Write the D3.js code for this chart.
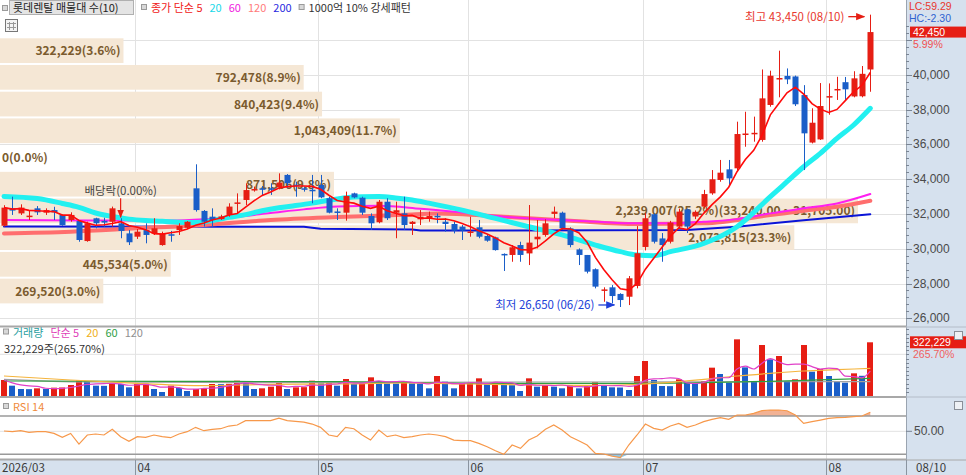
<!DOCTYPE html>
<html>
<head>
<meta charset="utf-8">
<script src="https://cdn.jsdelivr.net/npm/d3@7"></script>
<style>
body { margin: 0; background: #fff; }
svg { display: block; font-family: 'Noto Sans CJK KR', 'Noto Sans', sans-serif; }
.num { font-family: 'Liberation Sans', 'DejaVu Sans', sans-serif; }
</style>
</head>
<body>
<svg id="chart" width="966" height="475"></svg>
<script>
// daily candles, 2026/03 .. 08/10 (105 trading days)
var open = [31320,32320,32030,31870,32320,32070,32220,31940,31650,31590,30440,31750,31600,31550,31460,30880,30690,31070,30880,30210,30830,31070,31210,33470,32170,31840,31700,31940,32610,32800,33390,33470,33470,33530,34240,33680,33470,33390,33660,32900,32140,32070,33180,32930,31880,31520,32700,32070,32030,31420,31690,31750,31890,31550,31420,31270,30950,31230,30730,30650,29700,29640,30210,29730,30540,30790,32000,32070,31170,29960,29640,28820,27600,27780,27400,27240,27860,30100,31980,30590,30400,31270,32260,31850,32420,33180,33950,34560,34620,36550,36600,36250,38260,39790,39930,39900,38830,36100,36280,38730,39130,39570,38750,38760,40300]
var high = [32500,32990,32550,32220,32450,32320,32410,31970,32090,31650,31550,31780,31780,32420,31750,31070,31130,31460,31750,30980,31020,31460,31590,34850,32220,32320,31950,32610,33180,33760,33570,33600,33760,34330,34290,33850,33570,34240,34240,32990,32320,33280,33220,32990,32030,32800,32900,32700,32990,31590,32220,32130,32030,31750,31550,31360,31840,31650,30790,30690,29730,30210,30400,32510,31650,31690,32420,32130,31230,30020,29640,28870,27780,27910,27440,28430,31300,32050,32030,30900,31600,32300,32300,32200,33380,34520,35100,35100,37300,37870,37590,40300,40230,41380,40360,39950,39400,38070,39520,39500,39880,39870,40200,40500,43450]
var low = [31270,31940,31940,31650,31940,31940,31650,31320,31550,30400,30400,31170,31260,31270,30600,30210,30560,30310,30790,30170,30400,30790,31130,32130,31270,31270,31650,31840,32030,32510,33280,33030,33090,33410,33470,32990,33280,32610,32900,32030,31650,31610,32900,31940,31080,31460,31650,30600,31080,30790,31360,31550,31460,30980,30880,30500,30690,30600,30400,29890,28720,29250,29250,29060,30020,30690,31750,31070,30080,29060,28580,27720,26950,26860,26650,26760,27720,29900,30300,29250,30300,31150,30900,31700,32300,33100,33850,33660,34500,35860,36150,36150,38160,38700,39460,38200,34520,36050,36250,37700,38550,38550,38700,38700,39020]
var close = [32360,32190,32360,31900,32090,32220,32090,31360,31940,30500,31460,31460,31500,32320,31020,30370,30980,30790,31170,30880,30780,31300,31550,32220,31550,31650,31850,32420,32660,33370,33430,33430,33420,33800,33760,33620,33430,33300,32950,32070,32090,33030,32950,32070,31460,32700,31750,32210,31360,31550,31840,31880,31830,31420,31040,31040,30990,30690,30460,29920,29640,30080,29640,30350,30690,31460,32130,31170,30210,29640,28680,27820,27660,27280,27050,28300,29740,31750,30400,30210,31500,32130,31270,32120,33140,33990,34370,34040,36590,36620,36660,38640,39940,39810,39730,38300,36630,37240,38200,38770,39180,39160,39790,40050,42450]
var volume = [96000,62000,42000,41000,46000,42000,50000,51000,66000,92000,90000,62000,61000,76000,72000,52000,72000,74000,42000,24000,62000,48000,30000,42000,46000,72000,71000,73000,92000,86000,42000,46000,56000,90000,42000,52000,53000,92000,76000,77000,62000,102000,72000,76000,112000,90000,76000,75000,90000,76000,75000,46000,120000,86000,46000,76000,77000,106000,76000,80000,66000,65000,30000,106000,56000,66000,56000,46000,66000,46000,62000,82000,66000,52000,51000,36000,120000,210000,96000,60000,59000,100000,80000,76000,90000,170000,132000,80000,340000,172000,86000,306000,220000,240000,90000,100000,306000,146000,162000,120000,86000,80000,136000,121275,322229]
var rsi = [50.4,49.5,50.8,48.6,49.5,49.5,47.3,42.1,47.3,33.4,45.2,46.5,45.2,52.6,43.0,36.9,43.0,42.1,45.2,43.0,41.7,46.5,49.5,55.2,50.8,52.6,53.4,56.9,58.2,63.9,63.9,63.9,63.9,67.3,63.9,63.0,62.1,59.5,55.2,45.2,43.0,55.2,53.4,45.2,38.6,51.7,43.0,45.2,41.7,43.0,45.2,46.5,45.2,43.0,38.6,37.8,37.8,34.3,29.9,24.7,19.9,32.1,27.7,38.6,43.9,52.6,58.2,51.7,43.0,37.8,32.1,21.2,20.4,17.7,15.6,32.1,45.2,59.5,53.9,51.7,56.9,60.4,55.2,58.2,62.6,65.6,67.8,65.6,71.3,71.3,73.4,76.9,77.8,77.8,76.9,71.3,60.4,62.6,64.7,66.9,67.8,68.2,69.1,70.0,74.8]

// month ticks (candle index of first trading day)
var monthIdx = [0, 16, 38, 56, 77, 99]
var monthLabels = ["2026/03", "04", "05", "06", "07", "08"]
var lastDate = "08/10"

// long moving averages (candle index, value)
var ma20Idx = [0,4,7,9,11,13,15,17,19,21,23,25,27,29,31,33,35,37,39,41,43,45,47,49,51,55,59,63,67,71,74,76,78,80,84,88,92,94,96,98,100,102,104]
var ma20Val = [33000,32880,32600,32380,32050,31850,31700,31620,31580,31520,31500,31620,31800,31960,32180,32350,32480,32620,32780,32930,32990,33000,32920,32800,32620,32220,31740,31260,30790,30210,29830,29640,29600,29830,30300,31260,32990,33850,34710,35480,36340,37110,38070]
var ma60Idx = [0,10,20,24,28,32,36,40,45,50,55,60,65,70,75,80,84,88,92,96,100,104]
var ma60Val = [31650,31620,31620,31690,31840,32050,32260,32420,32470,32300,32080,31840,31690,31580,31460,31460,31550,31700,32030,32320,32600,33140]
var ma120Idx = [0,8,16,24,32,40,48,52,60,68,76,84,92,96,100,104]
var ma120Val = [30880,30980,31170,31360,31650,31820,31950,32030,31840,31610,31420,31460,31930,32180,32410,32760]
var ma200Idx = [0,36,38,49,50,82,88,96,104]
var ma200Val = [31270,31260,31150,31110,31040,31070,31260,31640,31980]

// volume moving averages
var vma20Idx = [0,8,16,24,32,40,48,56,64,72,80,84,88,92,96,100,104]
var vma20Val = [120000,96000,76000,62000,70000,72000,78000,72000,66000,64000,82000,100000,120000,136000,150000,158000,166000]
var vma60Idx = [0,20,40,60,76,84,92,104]
var vma60Val = [90000,88000,86000,76000,76000,80000,88000,106000]
var vma120Idx = [0,10,30,60,104]
var vma120Val = [100000,84000,80000,84000,86000]

// volume profile (매물대), bottom bin first
var profLow = 26800
var profStep = 1535
var profVol = [269520, 445534, 2072815, 2239007, 871506, 0, 1043409, 840423, 792478, 322229]
var profMaxRange = "(33,240.00 ~ 31,705.00)"

var divIdx = 14
var divLabel = "배당락(0.00%)"
var hiDate = "08/10", loDate = "06/26"
var lcText = "LC:59.29", hcText = "HC:-2.30"

var RED = "#e61e14", BLUE = "#1a5ec8", AXISBG = "#d6e1ee"
var fmt = d3.format(",")

var svg = d3.select("#chart")

var x = d3.scaleLinear().domain([0, 104]).range([4, 870.3])
var yP = d3.scaleLinear().domain([26000, 40000]).range([318.3, 74.7])
var yV = d3.scaleLinear().domain([0, 414000]).range([396, 327])
var yR = d3.scaleLinear().domain([20, 70]).range([454.3, 416])

function movingAvg(arr, n) {
    return arr.map(function(d, i) {
        return d3.mean(arr.slice(Math.max(0, i - n + 1), i + 1))
    })
}

svg.append("rect").attr("width", 966).attr("height", 475).attr("fill", "#fff")

// grid
var grid = svg.append("g")
grid.selectAll(".hg").data(d3.range(26000, 42001, 2000)).enter().append("line")
    .attr("x1", 0).attr("x2", 906)
    .attr("y1", function(d) { return Math.round(yP(d)) + 0.5 })
    .attr("y2", function(d) { return Math.round(yP(d)) + 0.5 })
    .attr("stroke", "#e2e2e2")
grid.selectAll(".vg").data(monthIdx.slice(1)).enter().append("line")
    .attr("x1", function(d) { return Math.round(x(d) - 2.5) + 0.5 })
    .attr("x2", function(d) { return Math.round(x(d) - 2.5) + 0.5 })
    .attr("y1", 0).attr("y2", 460)
    .attr("stroke", "#e2e2e2")

// volume profile boxes
var profTotal = d3.sum(profVol)
var profMaxI = profVol.indexOf(d3.max(profVol))
var xProf = d3.scaleLinear().domain([0, d3.max(profVol)]).range([0, 858])
var prof = svg.append("g")
profVol.forEach(function(v, k) {
    var top = yP(profLow + (k + 1) * profStep) + 1
    var bot = yP(profLow + k * profStep) - 1
    var w = xProf(v)
    prof.append("rect").attr("x", 0).attr("y", top).attr("width", w).attr("height", bot - top)
        .attr("fill", "#f5e7d5")
    var label = fmt(v) + "(" + (v / profTotal * 100).toFixed(1) + "%)"
    if (k == profMaxI) label += profMaxRange
    prof.append("text")
        .attr("x", w > 0 ? w - 3 : 2)
        .attr("y", (top + bot) / 2 + 4.5)
        .attr("text-anchor", w > 0 ? "end" : "start")
        .attr("font-size", 12).attr("font-weight", "bold")
        .attr("fill", "#7b5b2e")
        .text(label)
})

// long moving averages
var ma = svg.append("g")
function maLine(idx, val, color, width, curve) {
    var line = d3.line()
        .x(function(d) { return x(d[0]) })
        .y(function(d) { return yP(d[1]) })
        .curve(curve || d3.curveMonotoneX)
    ma.append("path").datum(d3.zip(idx, val))
        .attr("d", line).attr("fill", "none")
        .attr("stroke", color).attr("stroke-width", width)
        .attr("stroke-linejoin", "round").attr("stroke-linecap", "round")
}
maLine(ma200Idx, ma200Val, "#0a14d8", 2, d3.curveLinear)
maLine(ma120Idx, ma120Val, "#ff6e6e", 4)
maLine(ma60Idx, ma60Val, "#ff1ef0", 2)
maLine(ma20Idx, ma20Val, "#22f0f0", 5)

// candles
var idx = d3.range(close.length)
var candles = svg.append("g").selectAll("g").data(idx).enter().append("g")
candles.append("line")
    .attr("x1", function(i) { return Math.round(x(i)) + 0.5 })
    .attr("x2", function(i) { return Math.round(x(i)) + 0.5 })
    .attr("y1", function(i) { return yP(high[i]) })
    .attr("y2", function(i) { return yP(low[i]) })
    .attr("stroke", function(i) { return close[i] >= open[i] ? RED : BLUE })
candles.append("rect")
    .attr("x", function(i) { return Math.round(x(i)) - 2.5 })
    .attr("width", 6)
    .attr("y", function(i) { return yP(Math.max(open[i], close[i])) })
    .attr("height", function(i) { return Math.max(1.5, Math.abs(yP(open[i]) - yP(close[i]))) })
    .attr("fill", function(i) { return close[i] >= open[i] ? RED : BLUE })

// 5-day average on top
var ma5 = movingAvg(close, 5)
svg.append("path").datum(idx)
    .attr("d", d3.line().x(function(i) { return x(i) }).y(function(i) { return yP(ma5[i]) }))
    .attr("fill", "none").attr("stroke", "#ff0a0a").attr("stroke-width", 1.6)

// arrow marker heads
var defs = svg.append("defs")
function arrowHead(id, color) {
    defs.append("marker").attr("id", id).attr("viewBox", "0 0 10 10")
        .attr("refX", 9).attr("refY", 5).attr("markerWidth", 7).attr("markerHeight", 7)
        .attr("orient", "auto-start-reverse")
        .append("path").attr("d", "M0,1L10,5L0,9z").attr("fill", color)
}
arrowHead("arRed", RED)
arrowHead("arBlue", "#1f3fd8")

// highest / lowest
var hiI = high.indexOf(d3.max(high)), loI = low.indexOf(d3.min(low))
var hx = x(hiI) - 6, hy = yP(high[hiI]) + 2
svg.append("line").attr("x1", hx - 16).attr("x2", hx).attr("y1", hy).attr("y2", hy)
    .attr("stroke", RED).attr("stroke-width", 1.3).attr("marker-end", "url(#arRed)")
svg.append("text").attr("x", hx - 20).attr("y", hy + 4).attr("text-anchor", "end")
    .attr("font-size", 11.5).attr("fill", "#e8382e")
    .text("최고 " + fmt(high[hiI]) + " (" + hiDate + ")")
var lx = x(loI) - 6, ly = yP(low[loI]) - 2
svg.append("line").attr("x1", lx - 16).attr("x2", lx).attr("y1", ly).attr("y2", ly)
    .attr("stroke", "#1f3fd8").attr("stroke-width", 1.3).attr("marker-end", "url(#arBlue)")
svg.append("text").attr("x", lx - 20).attr("y", ly + 4).attr("text-anchor", "end")
    .attr("font-size", 11.5).attr("fill", "#2040d8")
    .text("최저 " + fmt(low[loI]) + " (" + loDate + ")")

// ex-dividend marker
var dx0 = x(divIdx), dy0 = yP(high[divIdx])
svg.append("line").attr("x1", dx0).attr("x2", dx0).attr("y1", dy0 - 20).attr("y2", dy0 - 1)
    .attr("stroke", RED).attr("stroke-width", 1.2).attr("marker-end", "url(#arRed)")
svg.append("text").attr("x", dx0).attr("y", dy0 - 23).attr("text-anchor", "middle")
    .attr("font-size", 11.5).attr("fill", "#444").text(divLabel)

// volume panel
var vol = svg.append("g")
vol.append("line").attr("x1", 0).attr("x2", 906).attr("y1", yV(250000)).attr("y2", yV(250000)).attr("stroke", "#e2e2e2")
vol.selectAll("rect").data(idx).enter().append("rect")
    .attr("x", function(i) { return Math.round(x(i)) - 3 })
    .attr("width", 6)
    .attr("y", function(i) { return yV(volume[i]) })
    .attr("height", function(i) { return yV(0) - yV(volume[i]) })
    .attr("fill", function(i) { return i == 0 || volume[i] >= volume[i - 1] ? RED : BLUE })
function vLine(pts, color) {
    vol.append("path").datum(pts)
        .attr("d", d3.line().x(function(d) { return x(d[0]) }).y(function(d) { return yV(d[1]) }).curve(d3.curveMonotoneX))
        .attr("fill", "none").attr("stroke", color).attr("stroke-width", 1.2)
}
vLine(d3.zip(vma120Idx, vma120Val), "#a0a0a0")
vLine(d3.zip(vma60Idx, vma60Val), "#2e9e40")
vLine(d3.zip(vma20Idx, vma20Val), "#f5b43c")
var vma5 = movingAvg(volume, 5)
vLine(idx.map(function(i) { return [i, vma5[i]] }), "#e040c8")

// RSI panel
var rs = svg.append("g")
rs.append("line").attr("x1", 0).attr("x2", 906).attr("y1", yR(50)).attr("y2", yR(50)).attr("stroke", "#e2e2e2")
rs.append("path").datum(idx)
    .attr("d", d3.area().x(function(i) { return x(i) }).y0(yR(70)).y1(function(i) { return yR(Math.max(70, rsi[i])) }))
    .attr("fill", "#f2b294")
rs.append("path").datum(idx)
    .attr("d", d3.area().x(function(i) { return x(i) }).y0(yR(20)).y1(function(i) { return yR(Math.min(20, rsi[i])) }))
    .attr("fill", "#8fc8e6")
;[70, 20].forEach(function(v) {
    rs.append("line").attr("x1", 0).attr("x2", 906).attr("y1", yR(v)).attr("y2", yR(v))
        .attr("stroke", "#9a9a9a").attr("stroke-width", 1.4)
})
rs.append("path").datum(idx)
    .attr("d", d3.line().x(function(i) { return x(i) }).y(function(i) { return yR(rsi[i]) }))
    .attr("fill", "none").attr("stroke", "#f7984a").attr("stroke-width", 1.2)

// panel separators
;[326.5, 397, 459.5].forEach(function(y) {
    svg.append("line").attr("x1", 0).attr("x2", 966).attr("y1", y).attr("y2", y)
        .attr("stroke", "#a8a8a8").attr("stroke-width", 2)
})

// right axis panel
var ax = svg.append("g").attr("class", "num")
ax.append("rect").attr("x", 906).attr("y", 0).attr("width", 60).attr("height", 475).attr("fill", AXISBG)
ax.append("line").attr("x1", 906.5).attr("x2", 906.5).attr("y1", 0).attr("y2", 475).attr("stroke", "#9aa4b0")
;[327, 397].forEach(function(y) {
    ax.append("line").attr("x1", 906).attr("x2", 966).attr("y1", y).attr("y2", y).attr("stroke", "#b4bcc8")
})
ax.selectAll(".mt").data(d3.range(25200, 43600, 400).filter(function(d) { return yP(d) > 22 && yP(d) < 324 })).enter().append("line")
    .attr("x1", 906).attr("x2", function(d) { return d % 2000 == 0 ? 912 : 909 })
    .attr("y1", function(d) { return Math.round(yP(d)) + 0.5 })
    .attr("y2", function(d) { return Math.round(yP(d)) + 0.5 })
    .attr("stroke", "#7a8594")
ax.selectAll(".pl").data(d3.range(26000, 40001, 2000)).enter().append("text")
    .attr("x", 913).attr("y", function(d) { return yP(d) + 4 })
    .attr("font-size", 12).attr("fill", "#4a4a4a")
    .text(function(d) { return fmt(d) })

ax.append("text").attr("x", 909).attr("y", 10).attr("font-size", 10.5).attr("fill", "#e8382e").text(lcText)
ax.append("text").attr("x", 909).attr("y", 22).attr("font-size", 10.5).attr("fill", "#2f63d0").text(hcText)
var lastC = close[close.length - 1], prevC = close[close.length - 2]
ax.append("rect").attr("x", 910).attr("y", yP(lastC) - 5.5).attr("width", 56).attr("height", 11).attr("fill", RED)
ax.append("text").attr("x", 913).attr("y", yP(lastC) + 4).attr("font-size", 10.5).attr("fill", "#fff").text(fmt(lastC))
ax.append("text").attr("x", 913).attr("y", yP(lastC) + 16).attr("font-size", 10.5).attr("fill", "#f05050")
    .text(((lastC / prevC - 1) * 100).toFixed(2) + "%")

var lastV = volume[volume.length - 1], prevV = volume[volume.length - 2]
var vRatio = (lastV / prevV * 100).toFixed(2)
ax.append("rect").attr("x", 910).attr("y", yV(lastV) - 6).attr("width", 56).attr("height", 12).attr("fill", RED)
ax.append("text").attr("x", 913).attr("y", yV(lastV) + 4).attr("font-size", 10.5).attr("fill", "#fff").text(fmt(lastV))
ax.append("text").attr("x", 913).attr("y", yV(lastV) + 16).attr("font-size", 10.5).attr("fill", "#f06060").text(vRatio + "%")
ax.selectAll(".vt").data(d3.range(25000, 410000, 25000)).enter().append("line")
    .attr("x1", 906).attr("x2", 909)
    .attr("y1", function(d) { return Math.round(yV(d)) + 0.5 })
    .attr("y2", function(d) { return Math.round(yV(d)) + 0.5 })
    .attr("stroke", "#7a8594")
ax.append("line").attr("x1", 906).attr("x2", 912).attr("y1", yR(50)).attr("y2", yR(50)).attr("stroke", "#7a8594")
ax.append("text").attr("x", 914).attr("y", yR(50) + 4).attr("font-size", 12).attr("fill", "#4a4a4a").text((50).toFixed(2))
;[331, 401].forEach(function(y) {
    ax.append("rect").attr("x", 954.5).attr("y", y + 0.5).attr("width", 8).attr("height", 8)
        .attr("fill", "#eef1f5").attr("stroke", "#8a8f98")
})

// x axis strip
var xa = svg.append("g")
xa.append("rect").attr("x", 0).attr("y", 460).attr("width", 966).attr("height", 15).attr("fill", AXISBG)
xa.append("line").attr("x1", 0).attr("x2", 966).attr("y1", 460).attr("y2", 460).attr("stroke", "#a8a8a8")
monthIdx.forEach(function(m, k) {
    var gx = k == 0 ? 0 : Math.round(x(m) - 2.5) + 0.5
    if (k > 0) xa.append("line").attr("x1", gx).attr("x2", gx).attr("y1", 460).attr("y2", 475).attr("stroke", "#8a94a0")
    xa.append("text").attr("x", gx + 2).attr("y", 472).attr("font-size", 11.5).attr("fill", "#3a3a3a").text(monthLabels[k])
})
xa.append("line").attr("x1", 906.5).attr("x2", 906.5).attr("y1", 460).attr("y2", 475).attr("stroke", "#8a94a0")
xa.append("text").attr("x", 916).attr("y", 472).attr("font-size", 11.5).attr("fill", "#3a3a3a").text(lastDate)

// legends: items laid out left to right from their measured widths
function smallBox(g, bx, by) {
    g.append("rect").attr("x", bx + 0.5).attr("y", by + 0.5).attr("width", 5).attr("height", 5)
        .attr("fill", "#d8d8d8").attr("stroke", "#9a9a9a")
}
function flow(g, x0, y0, items, gap) {
    var cx = x0
    items.forEach(function(it) {
        if (it.box) { smallBox(g, cx, y0 - 8); cx += 10; return }
        var t = g.append("text").attr("x", cx).attr("y", y0).attr("fill", it.color).text(it.text)
        cx += t.node().getComputedTextLength() + gap
    })
}
var lg = svg.append("g").attr("font-size", 11)
smallBox(lg, 2, 5)
lg.append("rect").attr("x", 9.5).attr("y", 0.5).attr("width", 124).attr("height", 14)
    .attr("fill", "#e4e4e4").attr("stroke", "#b0b0b0")
lg.append("text").attr("x", 13).attr("y", 12).attr("fill", "#222").text("롯데렌탈 매물대 수(10)")
flow(lg, 141, 12, [
    {box: true},
    {text: "종가 단순 5", color: "#f02020"},
    {text: "20", color: "#18d8e8"},
    {text: "60", color: "#f020e0"},
    {text: "120", color: "#ff7a7a"},
    {text: "200", color: "#2a2ae0"},
    {box: true},
    {text: "1000억 10% 강세패턴", color: "#333"}
], 7)

// grid icon
lg.append("rect").attr("x", 5.5).attr("y", 19.5).attr("width", 12).attr("height", 12).attr("fill", "#f4f4f4").attr("stroke", "#777")
;[9.5, 13.5].forEach(function(p) {
    lg.append("line").attr("x1", p).attr("x2", p).attr("y1", 22).attr("y2", 30).attr("stroke", "#999")
    lg.append("line").attr("x1", 7).attr("x2", 16).attr("y1", p + 14).attr("y2", p + 14).attr("stroke", "#999")
})

flow(lg, 3, 336.5, [
    {box: true},
    {text: "거래량", color: "#2a9f9f"},
    {text: "단순 5", color: "#e040b8"},
    {text: "20", color: "#f0b020"},
    {text: "60", color: "#30a048"},
    {text: "120", color: "#909090"}
], 7)
lg.append("text").attr("x", 4).attr("y", 352.5).attr("fill", "#333").text(fmt(lastV) + "주(" + vRatio + "%)")

flow(lg, 3, 411, [
    {box: true},
    {text: "RSI 14", color: "#f08a3c"}
], 7)
</script>
</body>
</html>
